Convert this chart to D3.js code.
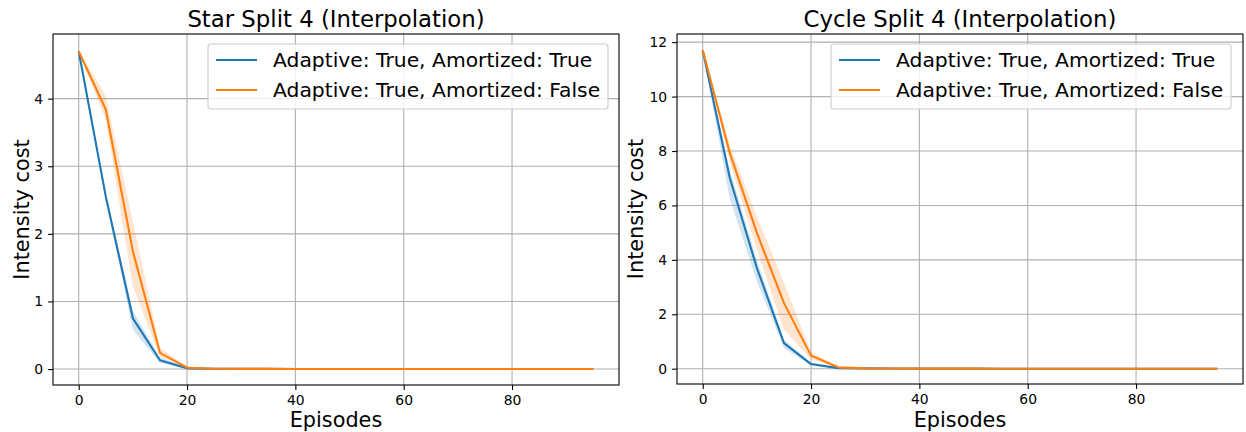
<!DOCTYPE html>
<html>
<head>
<meta charset="utf-8">
<script src="https://cdn.jsdelivr.net/npm/d3@7"></script>
<style>
  body { margin: 0; background: #fff; }
  svg { display: block; font-family: "DejaVu Sans", sans-serif; }
</style>
</head>
<body>
<div id="vis"></div>
<script>
var episodes = [0, 5, 10, 15, 20, 25, 30, 35, 40, 45, 50, 55, 60, 65, 70, 75, 80, 85, 90, 95];

// Star Split 4
var starAmortMean = [4.70, 2.55, 0.75, 0.13, 0.01, 0.005, 0.003, 0.002, 0.001, 0.001, 0, 0, 0, 0, 0, 0, 0, 0, 0, 0];
var starAmortLow  = [4.69, 2.50, 0.58, 0.09, 0.005, 0.002, 0.001, 0, 0, 0, 0, 0, 0, 0, 0, 0, 0, 0, 0, 0];
var starAmortHigh = [4.71, 2.60, 0.86, 0.17, 0.02, 0.008, 0.005, 0.003, 0.002, 0.001, 0.001, 0, 0, 0, 0, 0, 0, 0, 0, 0];
var starFullMean  = [4.70, 3.84, 1.74, 0.24, 0.02, 0.005, 0.003, 0.002, 0.001, 0.001, 0, 0, 0, 0, 0, 0, 0, 0, 0, 0];
var starFullLow   = [4.69, 3.68, 1.22, 0.18, 0.01, 0.002, 0.001, 0, 0, 0, 0, 0, 0, 0, 0, 0, 0, 0, 0, 0];
var starFullHigh  = [4.71, 4.04, 2.18, 0.31, 0.04, 0.01, 0.006, 0.004, 0.002, 0.001, 0.001, 0, 0, 0, 0, 0, 0, 0, 0, 0];

// Cycle Split 4
var cycleAmortMean = [11.70, 7.01, 3.70, 0.94, 0.17, 0.02, 0.01, 0.005, 0.003, 0.002, 0.001, 0, 0, 0, 0, 0, 0, 0, 0, 0];
var cycleAmortLow  = [11.68, 6.25, 3.20, 0.76, 0.12, 0.01, 0.005, 0.002, 0.001, 0, 0, 0, 0, 0, 0, 0, 0, 0, 0, 0];
var cycleAmortHigh = [11.72, 7.30, 4.00, 1.06, 0.21, 0.03, 0.015, 0.008, 0.005, 0.003, 0.002, 0, 0, 0, 0, 0, 0, 0, 0, 0];
var cycleFullMean  = [11.70, 7.93, 4.99, 2.41, 0.48, 0.05, 0.01, 0.005, 0.003, 0.002, 0.001, 0, 0, 0, 0, 0, 0, 0, 0, 0];
var cycleFullLow   = [11.68, 7.60, 4.37, 1.43, 0.35, 0.03, 0.005, 0.002, 0.001, 0, 0, 0, 0, 0, 0, 0, 0, 0, 0, 0];
var cycleFullHigh  = [11.72, 8.20, 5.60, 3.15, 0.62, 0.08, 0.02, 0.01, 0.005, 0.003, 0.002, 0, 0, 0, 0, 0, 0, 0, 0, 0];

var seriesNames = ['Adaptive: True, Amortized: True', 'Adaptive: True, Amortized: False'];
var seriesColors = ['#1f77b4', '#ff7f0e'];
var xTicks = [0, 20, 40, 60, 80];
var starYTicks = [0, 1, 2, 3, 4];
var cycleYTicks = [0, 2, 4, 6, 8, 10, 12];

var width = 1246, height = 432;

var svg = d3.select('#vis').append('svg')
    .attr('width', width)
    .attr('height', height);

function drawPanel(opt) {
    var x = d3.scaleLinear().domain([-4.75, 99.75]).range([opt.left, opt.right]);
    var y = d3.scaleLinear().domain(opt.yDomain).range([opt.bottom, opt.top]);
    var g = svg.append('g');

    // grid
    g.selectAll('.gx').data(xTicks).enter().append('line')
        .attr('x1', d => x(d)).attr('x2', d => x(d))
        .attr('y1', opt.top).attr('y2', opt.bottom)
        .attr('stroke', '#b0b0b0').attr('stroke-width', 1.1);
    g.selectAll('.gy').data(opt.yTicks).enter().append('line')
        .attr('x1', opt.left).attr('x2', opt.right)
        .attr('y1', d => y(d)).attr('y2', d => y(d))
        .attr('stroke', '#b0b0b0').attr('stroke-width', 1.1);

    var area = d3.area()
        .x((d, i) => x(episodes[i]))
        .y0(d => y(d[0]))
        .y1(d => y(d[1]));
    var line = d3.line()
        .x((d, i) => x(episodes[i]))
        .y(d => y(d));

    opt.series.forEach(function (s, k) {
        var band = s.low.map((v, i) => [v, s.high[i]]);
        g.append('path').datum(band)
            .attr('d', area)
            .attr('fill', seriesColors[k])
            .attr('fill-opacity', 0.2);
    });
    opt.series.forEach(function (s, k) {
        g.append('path').datum(s.mean)
            .attr('d', line)
            .attr('fill', 'none')
            .attr('stroke', seriesColors[k])
            .attr('stroke-width', 2.1)
            .attr('stroke-linejoin', 'round');
    });

    // axes
    var xAxis = d3.axisBottom(x).tickValues(xTicks).tickSize(4.9).tickPadding(4.9).tickFormat(d3.format('d'));
    var yAxis = d3.axisLeft(y).tickValues(opt.yTicks).tickSize(4.9).tickPadding(4.9).tickFormat(d3.format('d'));
    var gx = g.append('g').attr('transform', 'translate(0,' + opt.bottom + ')').call(xAxis);
    var gy = g.append('g').attr('transform', 'translate(' + opt.left + ',0)').call(yAxis);
    [gx, gy].forEach(function (a) {
        a.select('.domain').remove();
        a.selectAll('line').attr('stroke', '#000').attr('stroke-width', 1.1);
        a.selectAll('text').attr('font-size', 13.9).attr('fill', '#000')
            .attr('font-family', '"DejaVu Sans", sans-serif');
    });

    g.append('rect')
        .attr('x', opt.left).attr('y', opt.top)
        .attr('width', opt.right - opt.left).attr('height', opt.bottom - opt.top)
        .attr('fill', 'none').attr('stroke', '#000').attr('stroke-width', 1.1);

    // labels
    g.append('text')
        .attr('x', (opt.left + opt.right) / 2).attr('y', 27)
        .attr('text-anchor', 'middle').attr('font-size', 22.8)
        .text(opt.title);
    g.append('text')
        .attr('x', (opt.left + opt.right) / 2).attr('y', 427)
        .attr('text-anchor', 'middle').attr('font-size', 20.8)
        .text('Episodes');
    g.append('text')
        .attr('transform', 'translate(' + opt.ylabelX + ',' + ((opt.top + opt.bottom) / 2) + ') rotate(-90)')
        .attr('text-anchor', 'middle').attr('font-size', 20.8)
        .text('Intensity cost');

    // legend
    var lg = g.append('g').attr('transform', 'translate(' + opt.legendX + ',44)');
    lg.append('rect')
        .attr('width', 400).attr('height', 65).attr('rx', 3)
        .attr('fill', '#fff').attr('fill-opacity', 0.8)
        .attr('stroke', '#cccccc').attr('stroke-width', 1.1);
    seriesNames.forEach(function (name, k) {
        var ly = 16 + k * 30;
        lg.append('line')
            .attr('x1', 8).attr('x2', 49).attr('y1', ly).attr('y2', ly)
            .attr('stroke', seriesColors[k]).attr('stroke-width', 2.1);
        lg.append('text')
            .attr('x', 65).attr('y', ly + 7.3)
            .attr('font-size', 20.3)
            .text(name);
    });
}

drawPanel({
    left: 53, right: 619, top: 34, bottom: 385,
    yDomain: [-0.236, 4.956], yTicks: starYTicks,
    title: 'Star Split 4 (Interpolation)', ylabelX: 29, legendX: 208,
    series: [
        { mean: starAmortMean, low: starAmortLow, high: starAmortHigh },
        { mean: starFullMean, low: starFullLow, high: starFullHigh }
    ]
});

drawPanel({
    left: 677, right: 1243, top: 34, bottom: 384,
    yDomain: [-0.5625, 12.30], yTicks: cycleYTicks,
    title: 'Cycle Split 4 (Interpolation)', ylabelX: 643, legendX: 831,
    series: [
        { mean: cycleAmortMean, low: cycleAmortLow, high: cycleAmortHigh },
        { mean: cycleFullMean, low: cycleFullLow, high: cycleFullHigh }
    ]
});
</script>
</body>
</html>
